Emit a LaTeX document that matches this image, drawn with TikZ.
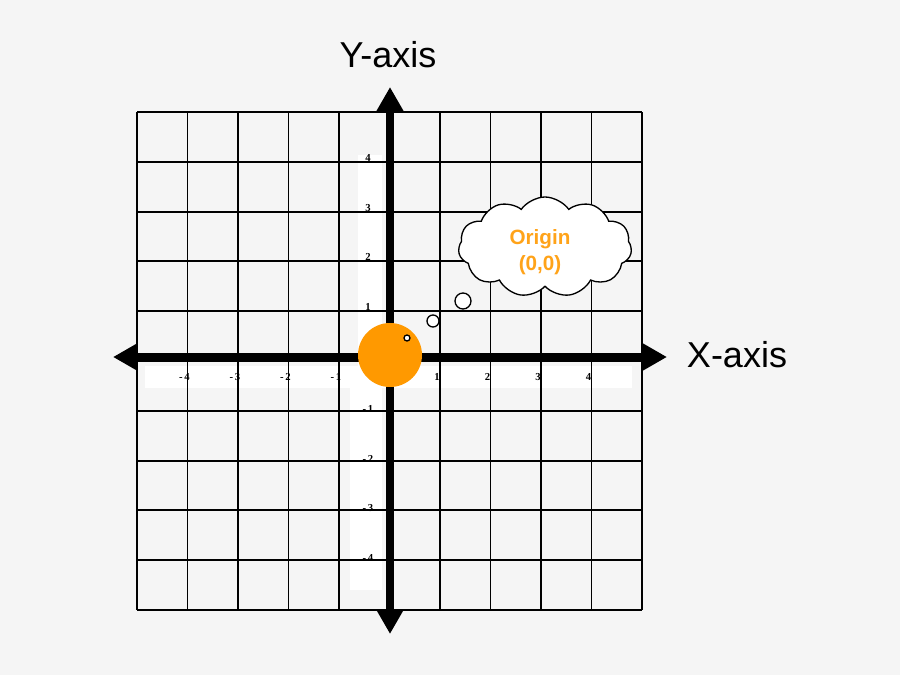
\documentclass[tikz,border=0pt]{standalone}
\usepackage{fontspec}
\setmainfont{Liberation Serif}
\setsansfont{Liberation Sans}
\usetikzlibrary{shapes.symbols,arrows.meta}
\definecolor{bg}{HTML}{F5F5F5}
\definecolor{org}{HTML}{FF9900}
\tikzset{axisline/.style={line width=6.5pt,-{Triangle[length=18pt,width=19pt]}},
tick/.style={font=\bfseries\fontsize{8}{9}\selectfont},
bub/.style={circle,draw,fill=white,line width=1pt,inner sep=0pt}}
\begin{document}
\begin{tikzpicture}[x=0.75pt,y=-0.75pt]
\fill[bg] (0,0) rectangle (900,675);
\useasboundingbox (0,0) rectangle (900,675);
\fill[white] (145,366) rectangle (632,388);
\fill[white] (358,155) rectangle (382,366);
\fill[white] (350,388) rectangle (382,590);
\foreach \i in {0,...,10}{
 \draw[line width=1.4pt] ({137+50.5*\i},112) -- ({137+50.5*\i},610);
 \draw[line width=1.4pt] (137,{112+49.8*\i}) -- (642,{112+49.8*\i});
}
\foreach \k in {-4,-3,-2,-1,1,2,3,4}{
 \node[tick] (xl\k) at ({389.5+50.5*\k-3},377) {\ifnum\k<0 -\,\number\numexpr-\k\relax\else\k\fi};
 \node[tick] (yl\k) at (368,{357-49.8*\k+(\k<0?2:0)}) {\ifnum\k<0 -\,\number\numexpr-\k\relax\else\k\fi};
}
\coordinate (o) at (390,357);
\coordinate (xr) at (667,357);
\coordinate (xlft) at (113,357);
\coordinate (yt) at (390,87);
\coordinate (yb) at (390,634);
\draw[axisline] (o) -- (xr);
\draw[axisline] (o) -- (xlft);
\draw[axisline] (o) -- (yt);
\draw[axisline] (o) -- (yb);
\node[circle,fill=org,inner sep=0pt,minimum size=48pt] (oc) at (390,355) {};
\node[bub,minimum size=4.5pt] (b1) at (407,338) {};
\node[bub,minimum size=9pt] (b2) at (433,321) {};
\node[bub,minimum size=12pt] (b3) at (463,301) {};
\node[cloud,cloud puffs=11,cloud puff arc=110,aspect=1.8,draw,fill=white,line width=1pt,minimum width=130pt,minimum height=75pt] (cl) at (545,247) {};
\node[font=\sffamily\bfseries\fontsize{15.5}{19}\selectfont,text=org!90!white,align=center] (ct) at (540,252) {Origin\\(0,0)};
\node[font=\sffamily\fontsize{27}{32}\selectfont] (ya) at (388,55) {Y-axis};
\node[font=\sffamily\fontsize{27}{32}\selectfont] (xa) at (737,355) {X-axis};
\end{tikzpicture}
\end{document}
